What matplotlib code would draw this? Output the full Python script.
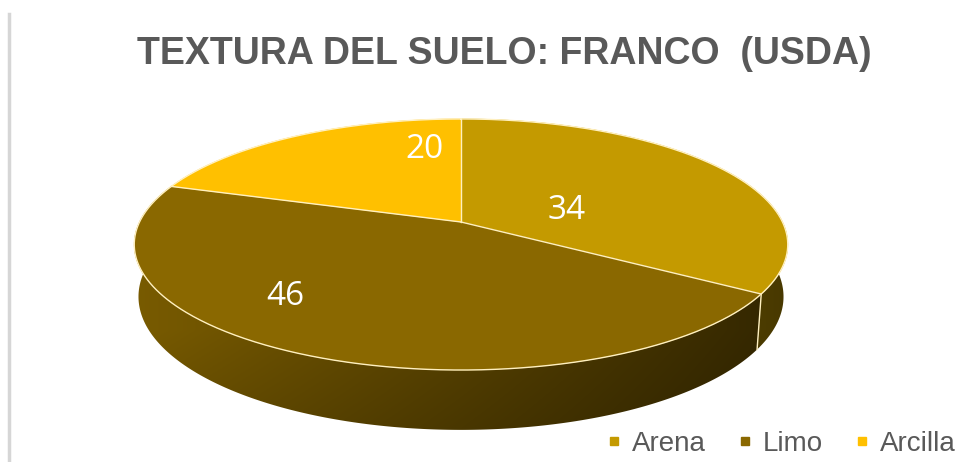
import numpy as np
import matplotlib
matplotlib.use('Agg')
import matplotlib.pyplot as plt
from matplotlib.patches import Polygon
from matplotlib.lines import Line2D

# ---- data ----
categories = ['Arena', 'Limo', 'Arcilla']
values = [34, 46, 20]
colors = ['#C49A00', '#8A6800', '#FFC000']
title = 'TEXTURA DEL SUELO: FRANCO  (USDA)'

# label placement inside each slice (fraction of slice angle, radius)
label_frac = [0.6, 0.6, 0.85]
label_rad = [0.35, 0.74, 0.675]

W, H = 958, 462
fig = plt.figure(figsize=(W / 100, H / 100), dpi=100)
ax = fig.add_axes([0, 0, 1, 1])
ax.set_xlim(0, W)
ax.set_ylim(H, 0)
ax.axis('off')

# ---- 3D projection of a tilted disk ----
cx, cy = 461, 222
f = 1662.0
D = 5.17
phi = np.arcsin(0.378)
h = 0.174


def proj(u, v, z):
    depth = D + v * np.cos(phi) - z * np.sin(phi)
    yup = v * np.sin(phi) + z * np.cos(phi)
    return cx + f * u / depth, cy - f * yup / depth


def to_rgb(c):
    c = c.lstrip('#')
    return np.array([int(c[i:i + 2], 16) / 255 for i in (0, 2, 4)])


total = float(sum(values))
bounds = np.concatenate([[0], np.cumsum(values)]) / total * 360.0

# shading field for the side wall (light from the left, darker at bottom)
xx, yy = np.meshgrid(np.arange(W) + 0.5, np.arange(H) + 0.5)
half_w = f / D
sx = np.clip((xx - cx) / half_w, -1, 1)
shade = 0.62 - 0.25 * sx
shade = shade * (1 - 0.15 * np.clip((yy - 330) / 100, 0, 1))

# ---- side walls ----
for i, val in enumerate(values):
    a0, a1 = max(bounds[i], 80.0), min(bounds[i + 1], 280.0)
    if a1 <= a0:
        continue
    th = np.radians(np.linspace(a0, a1, 300))
    top = [proj(np.sin(t), np.cos(t), 0) for t in th]
    bot = [proj(np.sin(t), np.cos(t), -h) for t in th[::-1]]
    poly = Polygon(top + bot, closed=True, facecolor='none',
                   edgecolor='none', zorder=1)
    ax.add_patch(poly)
    base = to_rgb(colors[i])
    img = np.clip(shade[..., None] * base[None, None, :], 0, 1)
    im = ax.imshow(img, extent=[0, W, H, 0], interpolation='bilinear',
                   zorder=1, aspect='auto')
    im.set_clip_path(poly)

ax.set_xlim(0, W)
ax.set_ylim(H, 0)

# ---- top faces ----
edge_col = '#FFF0C0'
for i, val in enumerate(values):
    a0, a1 = bounds[i], bounds[i + 1]
    th = np.radians(np.linspace(a0, a1, 200))
    pts = [proj(0, 0, 0)] + [proj(np.sin(t), np.cos(t), 0) for t in th]
    ax.add_patch(Polygon(pts, closed=True, facecolor=colors[i],
                         edgecolor=colors[i], linewidth=0.5, zorder=3))

# rim line
th = np.radians(np.linspace(0, 360, 721))
rim = np.array([proj(np.sin(t), np.cos(t), 0) for t in th])
ax.plot(rim[:, 0], rim[:, 1], color=edge_col, lw=1.0, zorder=4)

# radial boundary lines + vertical wall edges
for b in bounds[:-1]:
    t = np.radians(b)
    p0 = proj(0, 0, 0)
    p1 = proj(np.sin(t), np.cos(t), 0)
    ax.plot([p0[0], p1[0]], [p0[1], p1[1]], color=edge_col, lw=1.0, zorder=4)
    if np.cos(t) < -0.1:
        p2 = proj(np.sin(t), np.cos(t), -h)
        ax.plot([p1[0], p2[0]], [p1[1], p2[1]], color=edge_col, lw=1.0, zorder=2)

# ---- data labels ----
for i, val in enumerate(values):
    a = np.radians(bounds[i] + label_frac[i] * (bounds[i + 1] - bounds[i]))
    r = label_rad[i]
    x, y = proj(r * np.sin(a), r * np.cos(a), 0)
    ax.text(x, y, str(val), ha='center', va='center', color='white',
            fontsize=24, family='Open Sans', zorder=5)

# ---- title ----
fig.text(0.526, 1 - 54 / H, title, ha='center', va='center', fontsize=27,
         fontweight='bold', color='#595959', family='Liberation Sans')

# ---- left border remnant ----
ax.plot([9, 9], [14, H], color='#D6D6D6', lw=2.5, zorder=0)

# ---- legend ----
handles = [Line2D([0], [0], marker='s', linestyle='none', markersize=6,
                  markerfacecolor=c, markeredgecolor=c) for c in colors]
leg = fig.legend(handles, categories, loc='center right', ncol=3,
                 bbox_to_anchor=(1.024, 1 - 444 / H), frameon=False,
                 handlelength=0.6, handletextpad=0.35, columnspacing=1.1,
                 prop={'family': 'Liberation Sans', 'size': 20})
for t in leg.get_texts():
    t.set_color('#595959')

fig.savefig('out.png', dpi=100)
